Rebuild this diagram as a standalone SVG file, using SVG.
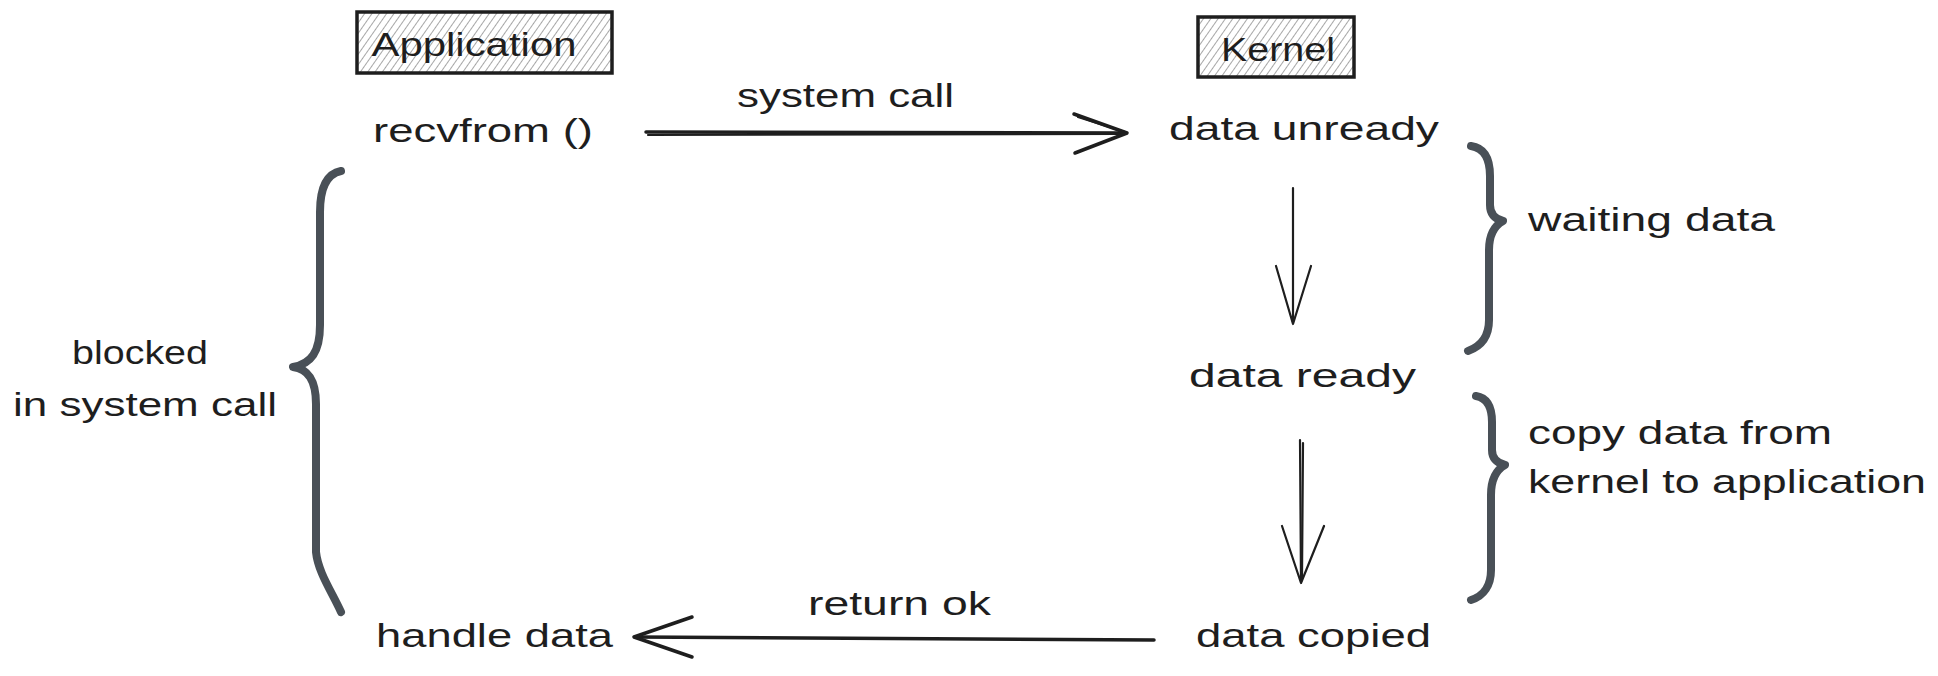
<svg xmlns="http://www.w3.org/2000/svg" width="1938" height="676" viewBox="0 0 1938 676">
<style>
.t{font-family:"Liberation Sans","DejaVu Sans",sans-serif;font-size:34px;fill:#1e1e1e}
.box{fill:url(#hatch);stroke:#1e1e1e;stroke-width:3.5}
.ln{fill:none;stroke:#1e1e1e;stroke-width:2.2;stroke-linecap:round;stroke-linejoin:round}
.thick{fill:none;stroke:#1e1e1e;stroke-width:3.5;stroke-linecap:round;stroke-linejoin:round}
.brace{fill:none;stroke:#495057;stroke-width:8;stroke-linecap:round;stroke-linejoin:round}
</style>
<defs>
<pattern id="hatch" width="6" height="6" patternUnits="userSpaceOnUse" patternTransform="rotate(35)">
<rect width="6" height="6" fill="#ffffff"/>
<line x1="0" y1="0" x2="0" y2="6" stroke="#8a8a8a" stroke-width="1.5"/>
</pattern>
</defs>
<rect width="1938" height="676" fill="#ffffff"/>

<g id="application">
<rect class="box" x="357" y="12" width="255" height="61"/>
<text class="t" x="474" y="56" text-anchor="middle" textLength="205" lengthAdjust="spacingAndGlyphs">Application</text>
</g>
<g id="kernel">
<rect class="box" x="1198" y="17" width="156" height="60"/>
<text class="t" x="1278" y="61" text-anchor="middle" textLength="114" lengthAdjust="spacingAndGlyphs">Kernel</text>
</g>
<g id="recvfrom"><text class="t" x="373" y="142" textLength="220" lengthAdjust="spacingAndGlyphs">recvfrom ()</text></g>
<g id="data-unready"><text class="t" x="1169" y="140" textLength="270" lengthAdjust="spacingAndGlyphs">data unready</text></g>
<g id="data-ready"><text class="t" x="1189" y="387" textLength="227" lengthAdjust="spacingAndGlyphs">data ready</text></g>
<g id="data-copied"><text class="t" x="1196" y="647" textLength="235" lengthAdjust="spacingAndGlyphs">data copied</text></g>
<g id="handle-data"><text class="t" x="376" y="647" textLength="237" lengthAdjust="spacingAndGlyphs">handle data</text></g>

<g id="blocked">
<path class="brace" d="M341,171 C326,174 320,188 320,212 L320,325 C320,352 311,364 293,367 C308,369 316,380 316,404 L316,552 C318,572 332,592 341,612"/>
<text class="t" x="140" y="364" text-anchor="middle" textLength="136" lengthAdjust="spacingAndGlyphs">blocked</text>
<text class="t" x="145" y="416" text-anchor="middle" textLength="264" lengthAdjust="spacingAndGlyphs">in system call</text>
</g>
<g id="waiting">
<path class="brace" d="M1471,146 C1485,148 1490,160 1490,176 L1490,205 C1490,214 1495,219 1503,221 C1494,226 1489,236 1489,250 L1489,320 C1489,335 1482,346 1468,351"/>
<text class="t" x="1528" y="231" textLength="247" lengthAdjust="spacingAndGlyphs">waiting data</text>
</g>
<g id="copying">
<path class="brace" d="M1476,396 C1488,398 1492,408 1492,422 L1492,450 C1492,458 1497,463 1505,465 C1496,470 1491,480 1491,495 L1491,570 C1491,585 1484,596 1471,600"/>
<text class="t" x="1528" y="444" textLength="304" lengthAdjust="spacingAndGlyphs">copy data from</text>
<text class="t" x="1528" y="493" textLength="398" lengthAdjust="spacingAndGlyphs">kernel to application</text>
</g>

<g id="connectors">
<g id="system-call">
<path class="thick" d="M646,132 L1126,133"/>
<path class="ln" d="M648,135 L1120,134"/>
<path class="thick" d="M1074,114 L1127,133 L1075,153"/>
<path class="ln" d="M1078,117 L1125,132"/>
<text class="t" x="737" y="107" textLength="217" lengthAdjust="spacingAndGlyphs">system call</text>
</g>
<path class="ln" d="M1293,188 L1293,324 M1276,266 L1293,324 L1311,266"/>
<path class="ln" d="M1300,440 L1301,583 M1282,526 L1301,583 L1324,526" stroke-width="1.8"/>
<path class="ln" d="M1303,443 L1302,578" stroke-width="1.2"/>
<g id="return-ok">
<path class="thick" d="M1154,640 L635,637"/>
<path class="thick" d="M692,617 L634,637 L692,657"/>
<text class="t" x="808" y="615" textLength="183" lengthAdjust="spacingAndGlyphs">return ok</text>
</g>
</g>
</svg>
